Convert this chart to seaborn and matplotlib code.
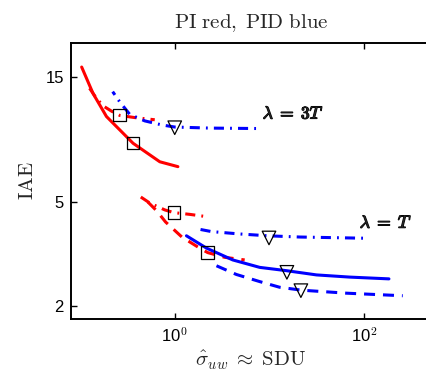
import matplotlib
matplotlib.use("Agg")
import matplotlib.pyplot as plt
import matplotlib.patheffects as pe
import seaborn as sns

# IAE vs sigma_uw (log-log)
pi_3T_solid_x = [0.104, 0.137, 0.19, 0.363, 0.695, 1.08]
pi_3T_solid_y = [16.4, 13.0, 10.6, 8.37, 7.11, 6.81]

pi_3T_dashdot_x = [0.126, 0.150, 0.178, 0.216, 0.263, 0.378, 0.615]
pi_3T_dashdot_y = [13.6, 12.4, 11.6, 11.1, 10.7, 10.5, 10.3]

pid_3T_dashdot_x = [0.221, 0.263, 0.335, 0.482, 0.730, 1.0, 2.34, 8.3]
pid_3T_dashdot_y = [13.2, 12.05, 10.8, 10.2, 9.84, 9.66, 9.57, 9.53]

pi_T_dashdot_x = [0.438, 0.545, 0.784, 0.976, 1.44, 2.29]
pi_T_dashdot_y = [5.21, 4.94, 4.65, 4.54, 4.47, 4.37]

pi_T_dashed_x = [0.519, 0.645, 0.80, 1.19, 1.88, 2.23, 3.37, 5.48]
pi_T_dashed_y = [4.99, 4.61, 4.18, 3.66, 3.30, 3.19, 3.06, 2.99]

pid_T_solid_x = [1.33, 2.16, 4.10, 7.9, 15.1, 31.4, 70.4, 183]
pid_T_solid_y = [3.70, 3.32, 2.99, 2.80, 2.72, 2.62, 2.57, 2.53]

pid_T_dashed_x = [2.76, 4.48, 7.9, 12.8, 21.8, 65, 256]
pid_T_dashed_y = [2.84, 2.63, 2.47, 2.35, 2.29, 2.23, 2.18]

pid_T_dashdot_x = [1.63, 2.44, 4.86, 9.6, 20.9, 106]
pid_T_dashdot_y = [3.95, 3.84, 3.76, 3.70, 3.66, 3.62]

square_x = [0.26, 0.363, 0.983, 2.21]
square_y = [10.75, 8.37, 4.54, 3.19]
triangle_x = [1.0, 9.9, 15.3, 21.5]
triangle_y = [9.6, 3.63, 2.68, 2.28]

x_ticks = [1, 100]
x_tick_labels = ["10$^{\\mathsf{0}}$", "10$^{\\mathsf{2}}$"]
y_ticks = [2, 5, 15]
y_tick_labels = ["2", "5", "15"]

sns.set_style("ticks")
plt.rcParams["font.family"] = ["Liberation Sans", "DejaVu Sans"]
plt.rcParams["mathtext.fontset"] = "cm"

LW = 2.2
SOLID = "-"
DASHED = (0, (3.6, 2.6))
DASHDOT = (0, (3.3, 2.0, 0.6, 2.0))

fig = plt.figure(figsize=(4.27, 3.76), dpi=100)
ax = fig.add_axes([0.166, 0.152, 0.843, 0.734])

curves = [
    (pi_3T_solid_x, pi_3T_solid_y, "red", SOLID),
    (pi_3T_dashdot_x, pi_3T_dashdot_y, "red", DASHDOT),
    (pi_T_dashdot_x, pi_T_dashdot_y, "red", DASHDOT),
    (pi_T_dashed_x, pi_T_dashed_y, "red", DASHED),
    (pid_3T_dashdot_x, pid_3T_dashdot_y, "blue", (2, (3.3, 2.0, 0.6, 2.0))),
    (pid_T_solid_x, pid_T_solid_y, "blue", SOLID),
    (pid_T_dashed_x, pid_T_dashed_y, "blue", DASHED),
    (pid_T_dashdot_x, pid_T_dashdot_y, "blue", (6, (3.3, 2.0, 0.6, 2.0))),
]
for xs, ys, col, ls in curves:
    sns.lineplot(x=xs, y=ys, color=col, lw=LW, linestyle=ls, sort=False,
                 estimator=None, ax=ax)

sns.scatterplot(x=square_x, y=square_y, marker="s", s=80, facecolor="none",
                edgecolor="k", linewidth=0.9, ax=ax, zorder=5)
sns.scatterplot(x=triangle_x, y=triangle_y, marker="v", s=95, facecolor="none",
                edgecolor="k", linewidth=0.9, ax=ax, zorder=5)

bold = [pe.withStroke(linewidth=0.9, foreground="k")]
ax.text(8.5, 10.9, r"$\lambda\;=\;3T$", fontsize=12.5, va="center",
        path_effects=bold)
ax.text(90, 4.16, r"$\lambda\;=\;T$", fontsize=12.5, va="center",
        path_effects=bold)

ax.set_xscale("log")
ax.set_yscale("log")
ax.set_xlim(0.08, 507)
ax.set_ylim(1.778, 20.3)
ax.set_xticks(x_ticks)
ax.set_xticklabels(x_tick_labels)
ax.set_yticks(y_ticks)
ax.set_yticklabels(y_tick_labels)
ax.minorticks_off()
ax.tick_params(direction="in", length=4, width=1, top=True, right=False,
               labelsize=12, pad=5, colors="k")
for sp in ax.spines.values():
    sp.set_linewidth(1.4)
    sp.set_color("k")

ax.set_title(r"$\mathrm{PI\ red,\;PID\ blue}$", fontsize=15, pad=11)
ax.set_xlabel(r"$\hat{\sigma}_{uw}\;\approx\;\mathrm{SDU}$", fontsize=15, labelpad=3)
ax.set_ylabel(r"$\mathrm{IAE}$", fontsize=15, labelpad=6)

fig.savefig("out.png", dpi=100)
